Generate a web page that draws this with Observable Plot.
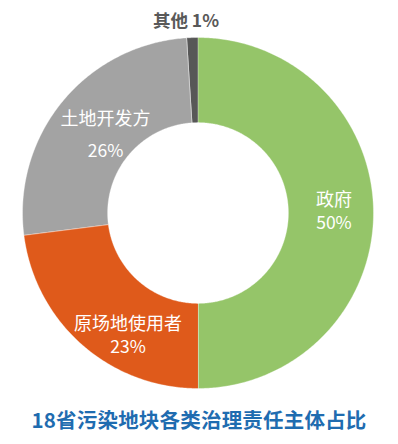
<!DOCTYPE html>
<html>
<head>
<meta charset="utf-8">
<script src="https://cdn.jsdelivr.net/npm/d3@7"></script>
<script src="https://cdn.jsdelivr.net/npm/@observablehq/plot@0.6"></script>
<style>
  html, body { margin: 0; padding: 0; background: #fff; }
  #chart { width: 398px; }
  #title {
    width: 398px; text-align: center; margin-top: 5px;
    font-family: "Noto Sans CJK SC", "Noto Sans", sans-serif;
    font-weight: 700; font-size: 20.5px; line-height: 28px; color: #1f6cb0;
    letter-spacing: 0.2px;
  }
</style>
</head>
<body>
<div id="chart"></div>
<div id="title">18省污染地块各类治理责任主体占比</div>
<script>
// ---- data ----
const categories = ["政府", "原场地使用者", "土地开发方", "其他"];
const values = [50, 23, 26, 1];
const pctLabels = ["50%", "23%", "26%", "1%"];

// ---- styles ----
const colors = ["#95c569", "#df5a1b", "#a3a3a3", "#575757"];
const innerRatio = 0.515;
const labelStyle = {
  "政府":       {inside: true, name: [3, -13], pct: [3, 10]},
  "原场地使用者": {inside: true, name: [18, 12], pct: [18, 35]},
  "土地开发方":   {inside: true, name: [10, -9], pct: [10, 23]},
  "其他":       {inside: false, name: [-6, 0]}
};

const rows = categories.map((c, i) => ({name: c, value: values[i], pct: pctLabels[i]}));
const arcs = d3.pie().sort(null).value(d => d.value)(rows);

// polygon vertices in unit (data) space, angle clockwise from top
const pts = [];
for (const a of arcs) {
  const n = Math.max(4, Math.ceil((a.endAngle - a.startAngle) / 0.01));
  const outer = [], inner = [];
  for (let k = 0; k <= n; k++) {
    const t = a.startAngle + (a.endAngle - a.startAngle) * k / n;
    outer.push({name: a.data.name, x: Math.sin(t), y: Math.cos(t)});
    inner.push({name: a.data.name, x: innerRatio * Math.sin(t), y: innerRatio * Math.cos(t)});
  }
  pts.push(...outer, ...inner.reverse());
}

const labels = arcs.map(a => {
  const mid = (a.startAngle + a.endAngle) / 2;
  const st = labelStyle[a.data.name];
  const r = st.inside ? (1 + innerRatio) / 2 : 1.094;
  return {name: a.data.name, pct: a.data.pct, x: r * Math.sin(mid), y: r * Math.cos(mid), st};
});

const font = "Noto Sans CJK SC";
const textMarks = labels.flatMap(l => {
  if (l.st.inside) {
    return [
      Plot.text([l], {x: "x", y: "y", text: "name", dx: l.st.name[0], dy: l.st.name[1],
        fill: "white", fontSize: 18, fontFamily: font}),
      Plot.text([l], {x: "x", y: "y", text: "pct", dx: l.st.pct[0], dy: l.st.pct[1],
        fill: "white", fontSize: 17.5, fontFamily: font})
    ];
  }
  return [Plot.text([l], {x: "x", y: "y", text: d => d.name + " " + d.pct,
    dx: l.st.name[0], dy: l.st.name[1], fill: "#595959", fontSize: 17.5, fontWeight: 600, fontFamily: font})];
});

const chart = Plot.plot({
  width: 398,
  height: 400,
  marginLeft: 22,
  marginRight: 25,
  marginTop: 37,
  marginBottom: 12,
  x: {domain: [-1, 1], axis: null},
  y: {domain: [-1, 1], axis: null},
  color: {domain: categories, range: colors},
  style: {background: "white"},
  marks: [
    Plot.line(pts, {x: "x", y: "y", z: "name", fill: "name", stroke: "#ffffff",
      strokeOpacity: 0.45, strokeWidth: 0.8, curve: "linear-closed"}),
    ...textMarks
  ]
});
document.getElementById("chart").appendChild(chart);
</script>
</body>
</html>
